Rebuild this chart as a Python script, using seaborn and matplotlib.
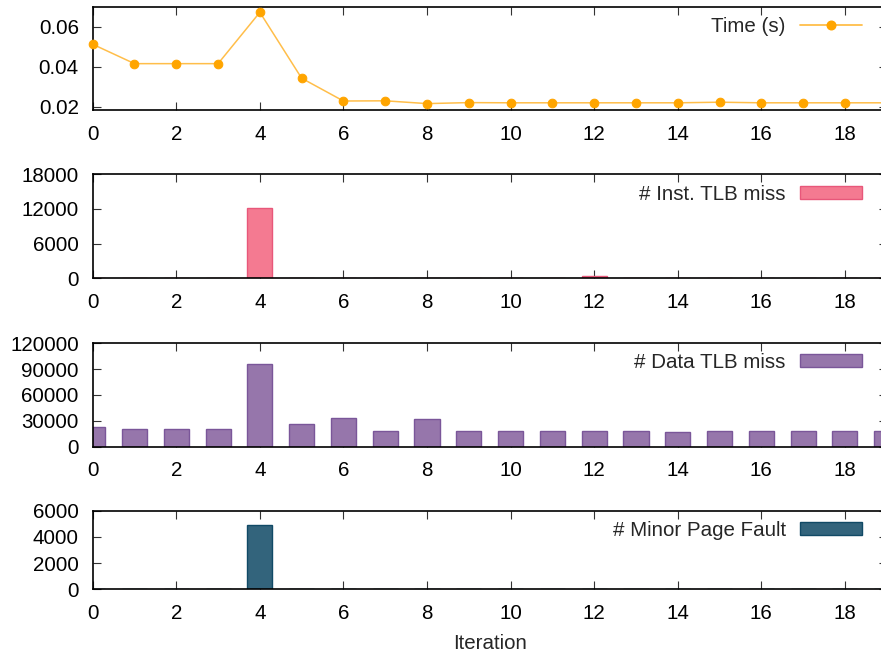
import matplotlib
matplotlib.use("Agg")
import matplotlib.pyplot as plt
from matplotlib.patches import Patch
from matplotlib.lines import Line2D
import numpy as np
import pandas as pd
import seaborn as sns

# Per-iteration measurements
iterations = list(range(20))
time_s = [0.0512, 0.0415, 0.0415, 0.0415, 0.0672, 0.0342, 0.0228, 0.0229,
          0.0215, 0.0220, 0.0219, 0.0219, 0.0219, 0.0219, 0.0219, 0.0222,
          0.0219, 0.0219, 0.0219, 0.0219]
inst_tlb_miss = [80, 0, 0, 0, 12100, 100, 0, 0, 0, 60, 60, 0, 400, 0, 0, 0,
                 0, 0, 0, 0]
data_tlb_miss = [23000, 20500, 20500, 20800, 96000, 26000, 33000, 18600,
                 32600, 18200, 18200, 18200, 18200, 18200, 17500, 18200,
                 18200, 18200, 18200, 18200]
minor_page_fault = [0, 0, 0, 0, 4900, 0, 0, 0, 0, 0, 0, 0, 0, 0, 0, 0, 0, 0,
                    0, 0]

x_ticks = list(range(0, 19, 2))
time_ticks = [0.02, 0.04, 0.06]
inst_ticks = [0, 6000, 12000, 18000]
data_ticks = [0, 30000, 60000, 90000, 120000]
fault_ticks = [0, 2000, 4000, 6000]

sns.set_style("ticks")
plt.rcParams["font.family"] = ["Liberation Sans", "DejaVu Sans"]
FS = 14.8

W, H = 881, 657
fig = plt.figure(figsize=(W / 100, H / 100), dpi=100)

left_px, right_px = 92.7, 886.7


def make_axes(top_px, bottom_px):
    return fig.add_axes([left_px / W, 1 - bottom_px / H,
                         (right_px - left_px) / W, (bottom_px - top_px) / H])


def style_axes(ax, yticks, ylim, ylabels):
    ax.set_xlim(0, 19)
    ax.set_ylim(*ylim)
    ax.set_xticks(x_ticks)
    ax.set_xticklabels([str(t) for t in x_ticks])
    ax.set_yticks(yticks)
    ax.set_yticklabels(ylabels)
    ax.tick_params(axis="both", direction="in", top=True, right=True,
                   length=6, width=0.8, colors="#333333", labelcolor="black",
                   labelsize=FS)
    ax.tick_params(axis="x", pad=10.5)
    ax.tick_params(axis="y", pad=10)
    for sp in ax.spines.values():
        sp.set_visible(True)
        sp.set_color("black")
        sp.set_linewidth(1.2)
    ax.set_xlabel("")
    ax.set_ylabel("")


def add_legend(ax, handle, label, y_px):
    ax.legend([handle], [label], loc="center right",
              bbox_to_anchor=(872 / W, 1 - y_px / H),
              bbox_transform=fig.transFigure, frameon=False,
              markerfirst=False, fontsize=FS, borderpad=0,
              handlelength=3.0, handleheight=0.6, handletextpad=0.7,
              numpoints=1)


df = pd.DataFrame({"iteration": iterations, "time": time_s,
                   "inst": inst_tlb_miss, "data": data_tlb_miss,
                   "fault": minor_page_fault})

# Execution time per iteration
ax1 = make_axes(6.7, 110)
line_col = "#FFBE4A"
point_col = "#FFA500"
sns.lineplot(data=df, x="iteration", y="time", ax=ax1, color=line_col,
             linewidth=1.1, marker="o", markersize=6.2,
             markerfacecolor=point_col, markeredgecolor=point_col,
             clip_on=False, zorder=3)
style_axes(ax1, time_ticks, (0.0183, 0.07), ["0.02", "0.04", "0.06"])
add_legend(ax1, Line2D([0], [0], color=line_col, linewidth=1.3, marker="o",
                       markersize=6.2, markerfacecolor=point_col,
                       markeredgecolor=point_col), "Time (s)", 26)

bar_specs = [
    (174.3, 278.3, "inst", "#F47A91", "#E8577A", inst_ticks, (0, 18000),
     "# Inst. TLB miss", 194),
    (343.3, 446.7, "data", "#9676AB", "#7A5699", data_ticks, (0, 120000),
     "# Data TLB miss", 362),
    (510.7, 589.3, "fault", "#33647C", "#114A66", fault_ticks, (0, 6000),
     "# Minor Page Fault", 530),
]

axes = [ax1]
for top, bottom, col, fc, ec, ticks, ylim, label, ly in bar_specs:
    ax = make_axes(top, bottom)
    sns.barplot(data=df, x="iteration", y=col, ax=ax, native_scale=True,
                width=0.6, color=fc, saturation=1, edgecolor=ec,
                linewidth=1.0)
    style_axes(ax, ticks, ylim, [str(t) for t in ticks])
    add_legend(ax, Patch(facecolor=fc, edgecolor=ec, linewidth=1.0),
               label, ly)
    axes.append(ax)

axes[-1].set_xlabel("Iteration", fontsize=FS, labelpad=8)

fig.savefig("out.png", dpi=100)
